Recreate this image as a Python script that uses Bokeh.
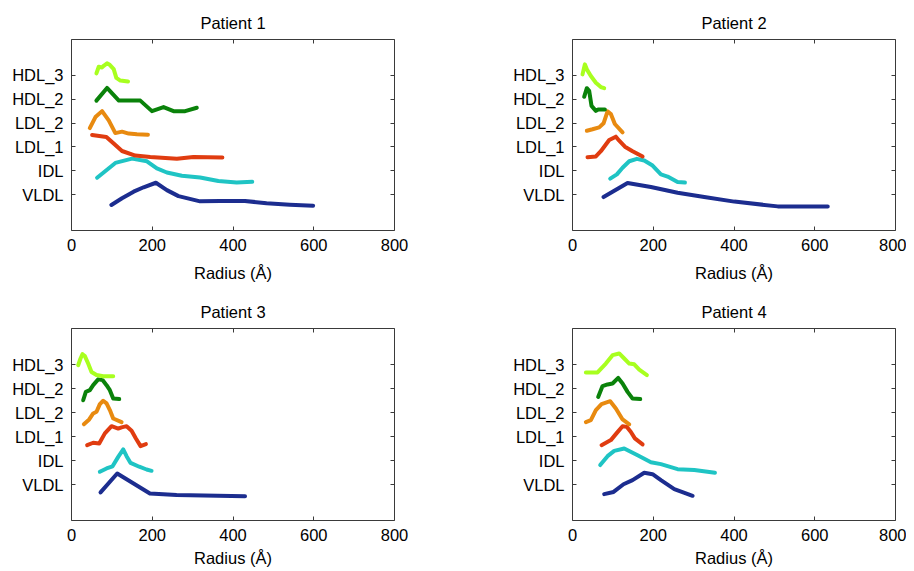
from bokeh.plotting import figure
from bokeh.layouts import column, row
from bokeh.models import Range1d, LinearAxis, FixedTicker, CustomJSTickFormatter
from bokeh.embed import file_html
from bokeh.resources import INLINE

classes = ["VLDL", "IDL", "LDL_1", "LDL_2", "HDL_2", "HDL_3"]
class_pos = [1, 2, 3, 4, 5, 6]
colors = ["#1c2d8f", "#1fc4c4", "#e03c10", "#e88a10", "#0a820a", "#a8ff1f"]
x_ticks = [0, 200, 400, 600, 800]
titles = ["Patient 1", "Patient 2", "Patient 3", "Patient 4"]

# ---- Patient 1 ----
p1_vldl_x = [98.8, 125.1, 153.9, 178.6, 209, 236.2, 265, 318.5, 367.9, 429.6, 483.1, 540.7, 598.4]
p1_vldl_y = [0.57, 0.85, 1.125, 1.31, 1.5, 1.19, 0.94, 0.72, 0.74, 0.74, 0.64, 0.58, 0.54]
p1_idl_x = [63.4, 108.6, 149.8, 186.8, 211.5, 236.2, 273.3, 318.5, 363.8, 409, 447.7]
p1_idl_y = [1.71, 2.33, 2.51, 2.4, 2.1, 1.93, 1.79, 1.72, 1.57, 1.51, 1.54]
p1_ldl1_x = [51, 86.4, 104.5, 125.1, 158, 195, 261, 302, 373.7]
p1_ldl1_y = [3.5, 3.42, 3.14, 2.83, 2.64, 2.58, 2.51, 2.58, 2.56]
p1_ldl2_x = [45.3, 59.3, 75.7, 92.2, 108.6, 125.1, 141.6, 162.1, 189.3]
p1_ldl2_y = [3.79, 4.25, 4.5, 4.11, 3.58, 3.64, 3.56, 3.53, 3.51]
p1_hdl2_x = [61.7, 88, 117.3, 170.4, 199.2, 228, 252.7, 281.5, 310.3]
p1_hdl2_y = [4.94, 5.47, 4.94, 4.94, 4.5, 4.67, 4.5, 4.5, 4.64]
p1_hdl3_x = [61.7, 67.5, 75.7, 79.8, 88, 94.7, 104.5, 111, 121, 140]
p1_hdl3_y = [6.08, 6.36, 6.33, 6.40, 6.5, 6.44, 6.26, 5.89, 5.78, 5.74]

# ---- Patient 2 ----
p2_vldl_x = [76.9, 136.4, 194.2, 260.3, 326.4, 400.8, 508.3, 632.2]
p2_vldl_y = [0.90, 1.49, 1.32, 1.08, 0.90, 0.71, 0.51, 0.51]
p2_idl_x = [93.4, 109.9, 124, 140.5, 159.5, 177.7, 198.3, 219, 235.5, 260.3, 278.5]
p2_idl_y = [1.67, 1.85, 2.13, 2.40, 2.5, 2.43, 2.22, 1.85, 1.76, 1.53, 1.51]
p2_ldl1_x = [37.2, 57.9, 70.2, 90.9, 107.4, 115.7, 129.8, 148.8, 173.6]
p2_ldl1_y = [2.57, 2.60, 2.82, 3.29, 3.43, 3.26, 3.01, 2.82, 2.60]
p2_ldl2_x = [35.5, 49.6, 66.1, 76.9, 86.8, 95, 104.9, 124]
p2_ldl2_y = [3.68, 3.74, 3.82, 3.99, 4.49, 4.38, 3.96, 3.61]
p2_hdl2_x = [28.9, 35.5, 41.3, 47.1, 57.9, 63.6, 70.2, 80.2]
p2_hdl2_y = [5.10, 5.46, 5.35, 4.72, 4.51, 4.57, 4.57, 4.57]
p2_hdl3_x = [24.8, 30.6, 35.5, 45.5, 57.9, 70.2, 78.5]
p2_hdl3_y = [6.04, 6.46, 6.25, 5.97, 5.69, 5.51, 5.46]

# ---- Patient 3 ----
p3_vldl_x = [71.9, 113.2, 194.2, 260.3, 429.8]
p3_vldl_y = [0.67, 1.46, 0.625, 0.56, 0.51]
p3_idl_x = [70.2, 86.8, 101.7, 115.7, 128.1, 136.4, 146.3, 167.8, 186, 198.3]
p3_idl_y = [1.53, 1.67, 1.76, 2.15, 2.46, 2.18, 1.90, 1.74, 1.625, 1.57]
p3_ldl1_x = [38.8, 53.7, 68.6, 82.6, 99.2, 115.7, 124, 136.4, 148.8, 159.5, 171.1, 184.3]
p3_ldl1_y = [2.64, 2.74, 2.71, 3.13, 3.43, 3.33, 3.38, 3.43, 3.24, 2.92, 2.60, 2.68]
p3_ldl2_x = [30.6, 43.8, 53.7, 62, 70.2, 78.5, 86.8, 95, 103.3, 124]
p3_ldl2_y = [3.51, 3.71, 3.96, 4.03, 4.35, 4.49, 4.38, 4.10, 3.75, 3.60]
p3_hdl2_x = [28.9, 35.5, 45.5, 53.7, 66.1, 76.9, 86.8, 95, 103.3, 118.2]
p3_hdl2_y = [4.51, 4.86, 4.93, 5.14, 5.38, 5.35, 5.14, 4.93, 4.58, 4.56]
p3_hdl3_x = [16.5, 22.3, 27.3, 33.1, 41.3, 49.6, 62, 78.5, 103.3]
p3_hdl3_y = [5.97, 6.25, 6.43, 6.35, 6.04, 5.69, 5.56, 5.51, 5.51]

# ---- Patient 4 ----
p4_vldl_x = [78.5, 101.7, 126.4, 148.8, 177.7, 198.3, 219, 252.1, 297.5]
p4_vldl_y = [0.60, 0.69, 1.01, 1.18, 1.49, 1.43, 1.18, 0.81, 0.53]
p4_idl_x = [68.6, 86.8, 103.3, 128.1, 161.2, 194.2, 219, 260.3, 301.7, 352.9]
p4_idl_y = [1.81, 2.18, 2.40, 2.5, 2.22, 1.93, 1.85, 1.64, 1.60, 1.49]
p4_ldl1_x = [71.9, 95, 109.9, 124, 134.8, 144.6, 154.5, 173.6]
p4_ldl1_y = [2.64, 2.85, 3.15, 3.43, 3.40, 3.19, 2.92, 2.67]
p4_ldl2_x = [33.1, 45.5, 57.9, 71.9, 93.4, 107.4, 124, 140.5]
p4_ldl2_y = [3.60, 3.68, 4.10, 4.35, 4.47, 4.17, 3.71, 3.51]
p4_hdl2_x = [63.6, 74.4, 86.8, 99.2, 113.2, 124, 136.4, 148.8, 167.8]
p4_hdl2_y = [4.65, 5.10, 5.17, 5.21, 5.44, 5.21, 4.86, 4.58, 4.56]
p4_hdl3_x = [33.1, 62, 82.6, 99.2, 115.7, 128.1, 140.5, 152.9, 165.3, 184.3]
p4_hdl3_y = [5.67, 5.67, 6.04, 6.39, 6.46, 6.25, 6.04, 6.01, 5.79, 5.56]

patients = [
    [(p1_vldl_x, p1_vldl_y), (p1_idl_x, p1_idl_y), (p1_ldl1_x, p1_ldl1_y),
     (p1_ldl2_x, p1_ldl2_y), (p1_hdl2_x, p1_hdl2_y), (p1_hdl3_x, p1_hdl3_y)],
    [(p2_vldl_x, p2_vldl_y), (p2_idl_x, p2_idl_y), (p2_ldl1_x, p2_ldl1_y),
     (p2_ldl2_x, p2_ldl2_y), (p2_hdl2_x, p2_hdl2_y), (p2_hdl3_x, p2_hdl3_y)],
    [(p3_vldl_x, p3_vldl_y), (p3_idl_x, p3_idl_y), (p3_ldl1_x, p3_ldl1_y),
     (p3_ldl2_x, p3_ldl2_y), (p3_hdl2_x, p3_hdl2_y), (p3_hdl3_x, p3_hdl3_y)],
    [(p4_vldl_x, p4_vldl_y), (p4_idl_x, p4_idl_y), (p4_ldl1_x, p4_ldl1_y),
     (p4_ldl2_x, p4_ldl2_y), (p4_hdl2_x, p4_hdl2_y), (p4_hdl3_x, p4_hdl3_y)],
]

FONT = "Liberation Sans"
FS = "16.5px"
AX_COLOR = "#3a3a3a"

# layout: (width, height, left, right, top, bottom, tick_standoff, label_standoff)
geom = [
    (508, 289, 71, 114, 39, 59, 8, 10),
    (398, 289, 64, 11, 39, 59, 8, 10),
    (508, 281, 71, 114, 39, 50, 8, 5),
    (398, 281, 64, 11, 39, 50, 8, 5),
]

blank = CustomJSTickFormatter(code="return '';")

figs = []
for i, series in enumerate(patients):
    w, h, bl, br, bt, bb, ts, ls = geom[i]
    p = figure(width=w, height=h, output_backend="svg", toolbar_location=None,
               x_range=Range1d(0, 800), y_range=Range1d(-0.5, 7.5),
               min_border_left=bl, min_border_right=br,
               min_border_top=bt, min_border_bottom=bb,
               title=titles[i])
    p.title.text_font = FONT
    p.title.text_font_size = FS
    p.title.text_font_style = "normal"
    p.title.align = "center"
    p.title.text_color = "black"
    p.title.standoff = 15
    p.grid.visible = False
    p.outline_line_color = AX_COLOR
    p.outline_line_width = 1
    p.background_fill_color = "white"
    p.border_fill_color = "white"

    for (xs, ys), c in zip(series, colors):
        p.line(xs, ys, line_color=c, line_width=4, line_join="round", line_cap="round")

    xa = p.xaxis[0]
    xa.ticker = FixedTicker(ticks=x_ticks)
    xa.axis_label = "Radius (Å)"
    ya = p.yaxis[0]
    ya.ticker = FixedTicker(ticks=class_pos)
    ya.major_label_overrides = {k: v for k, v in zip(class_pos, classes)}

    for ax in (xa, ya):
        ax.axis_line_color = None
        ax.major_tick_in = 4
        ax.major_tick_out = 0
        ax.major_tick_line_color = AX_COLOR
        ax.minor_tick_line_color = None
        ax.major_label_text_font = FONT
        ax.major_label_text_font_size = FS
        ax.major_label_text_color = "black"
        ax.axis_label_text_font = FONT
        ax.axis_label_text_font_size = FS
        ax.axis_label_text_font_style = "normal"
        ax.axis_label_text_color = "black"
    xa.major_label_standoff = ts
    xa.axis_label_standoff = ls
    ya.major_label_standoff = 8

    top = LinearAxis(ticker=FixedTicker(ticks=x_ticks), formatter=blank,
                     axis_line_color=None, major_tick_in=4, major_tick_out=0,
                     major_tick_line_color=AX_COLOR, minor_tick_line_color=None,
                     major_label_text_font_size="0px", major_label_standoff=0)
    right = LinearAxis(ticker=FixedTicker(ticks=class_pos), formatter=blank,
                       axis_line_color=None, major_tick_in=4, major_tick_out=0,
                       major_tick_line_color=AX_COLOR, minor_tick_line_color=None,
                       major_label_text_font_size="0px", major_label_standoff=0)
    p.add_layout(top, "above")
    p.add_layout(right, "right")
    figs.append(p)

layout = column(row(figs[0], figs[1]), row(figs[2], figs[3]))

with open("out.html", "w") as f:
    f.write(file_html(layout, INLINE))
